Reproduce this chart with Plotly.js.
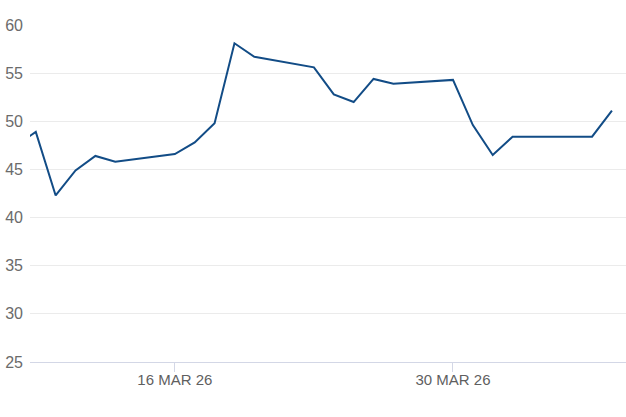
<!DOCTYPE html>
<html>
<head>
<meta charset="utf-8">
<script src="https://cdn.plot.ly/plotly-3.0.1.min.js"></script>
<style>
  html, body { margin: 0; padding: 0; background: #fff; }
  #chart { width: 626px; height: 417px; }
</style>
</head>
<body>
<div id="chart"></div>
<script>
// Dates (Mar 6 point lies left of the visible range; the line is clipped at the edge)
var dates = ['2026-03-06','2026-03-09','2026-03-10','2026-03-11','2026-03-12','2026-03-13',
             '2026-03-16','2026-03-17','2026-03-18','2026-03-19','2026-03-20',
             '2026-03-23','2026-03-24','2026-03-25','2026-03-26','2026-03-27',
             '2026-03-30','2026-03-31','2026-04-01','2026-04-02','2026-04-06','2026-04-07'];
var values = [44.6, 48.9, 42.3, 44.9, 46.4, 45.8,
              46.6, 47.8, 49.8, 58.1, 56.7,
              55.6, 52.8, 52.0, 54.4, 53.9,
              54.3, 49.6, 46.5, 48.4, 48.4, 51.1];
var tickDates = ['2026-03-16', '2026-03-30'];
var tickLabels = ['16 MAR 26', '30 MAR 26'];
var yTicks = [25, 30, 35, 40, 45, 50, 55, 60];

var trace = {
  x: dates, y: values, type: 'scatter', mode: 'lines',
  line: { color: '#124c86', width: 2 },
  hoverinfo: 'x+y'
};

var layout = {
  width: 626, height: 417,
  margin: { l: 30, r: 0, t: 25, b: 55 },
  paper_bgcolor: '#ffffff', plot_bgcolor: '#ffffff',
  showlegend: false,
  font: { family: 'Liberation Sans, Arial, sans-serif', size: 15, color: '#666666' },
  xaxis: {
    type: 'date',
    range: ['2026-03-08 17:00', '2026-04-07 17:00'],
    tickvals: tickDates, ticktext: tickLabels,
    showgrid: false, zeroline: false,
    showline: true, linecolor: '#d3d7e6', linewidth: 1,
    ticks: 'outside', ticklen: 9, tickcolor: '#d3d7e6', tickwidth: 1,
    ticklabelstandoff: -5,
    tickfont: { size: 15, color: '#5f5f5f' }
  },
  yaxis: {
    range: [25, 60],
    tickvals: yTicks,
    showgrid: true, gridcolor: '#ebebeb', gridwidth: 1,
    zeroline: false, showline: false,
    ticks: '', ticklabelstandoff: 6,
    tickfont: { size: 16, color: '#6b6b6b' }
  }
};

Plotly.newPlot('chart', [trace], layout, { displayModeBar: false, staticPlot: true });
</script>
</body>
</html>
